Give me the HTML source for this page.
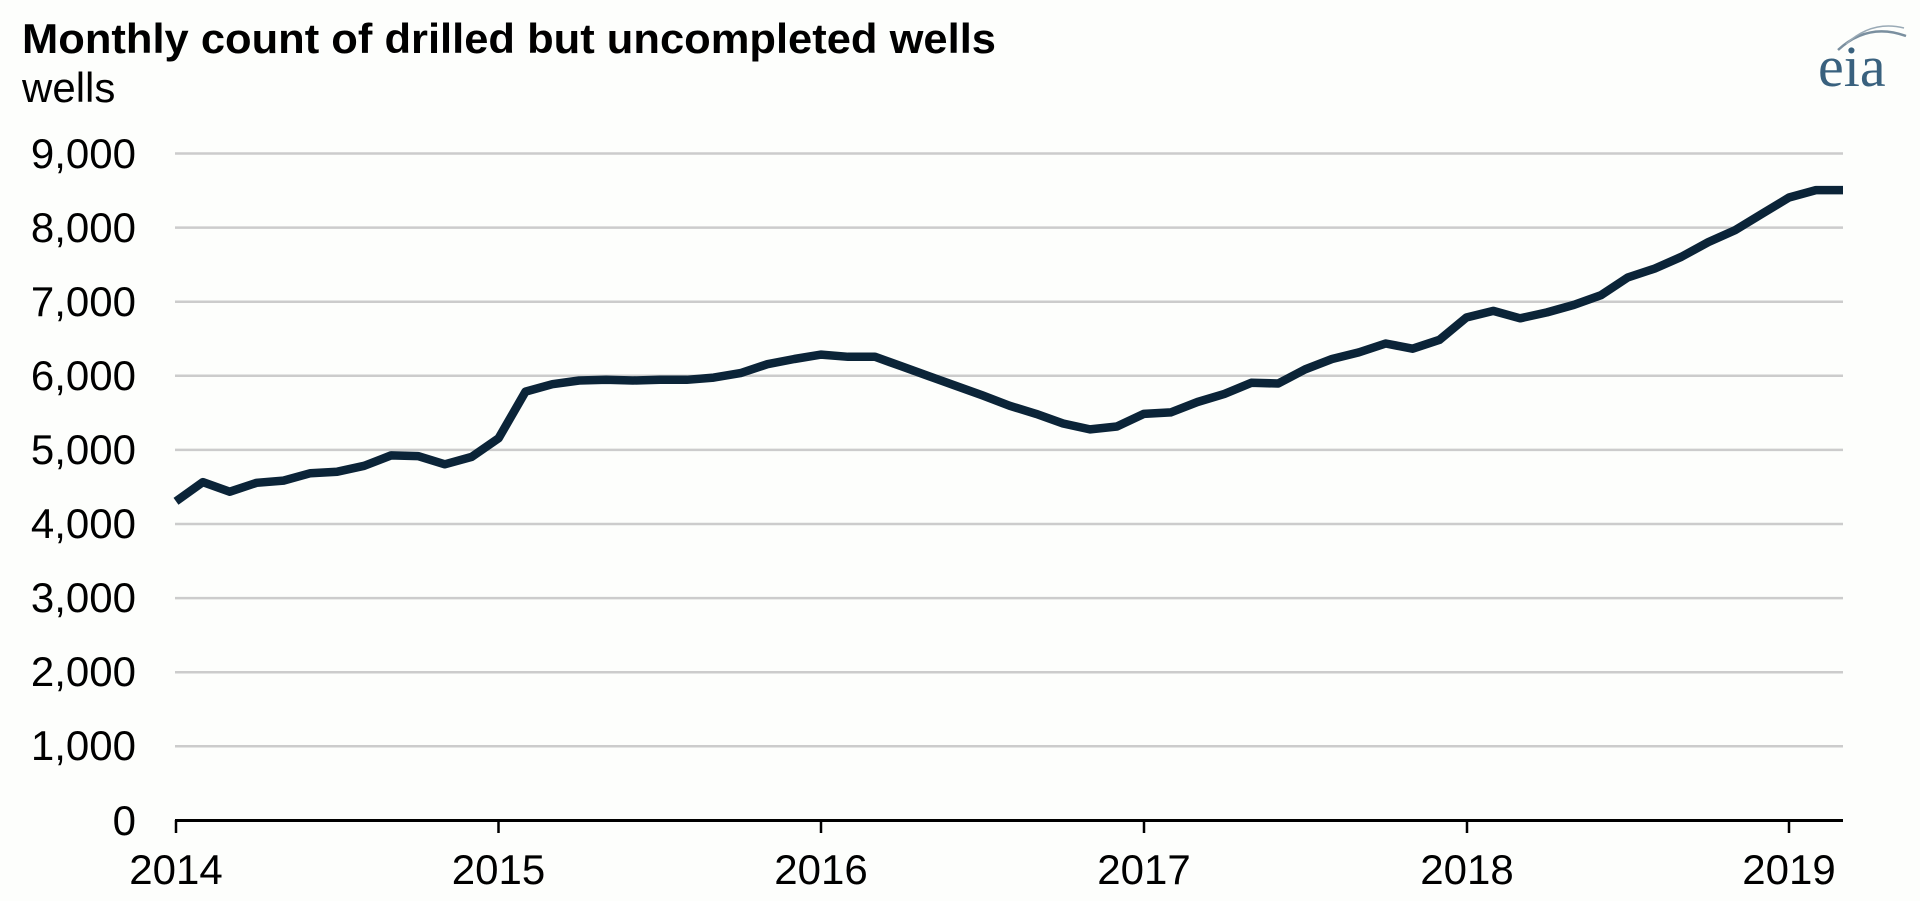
<!DOCTYPE html>
<html><head><meta charset="utf-8"><style>
html,body{margin:0;padding:0;background:#fdfefc;}
svg{display:block;font-family:"Liberation Sans",Arial,sans-serif;}
</style></head><body>
<svg width="1920" height="901" viewBox="0 0 1920 901" xmlns="http://www.w3.org/2000/svg">
<rect width="1920" height="901" fill="#fdfefc"/>
<text x="22" y="53" font-size="42" font-weight="bold" fill="#000" textLength="974" lengthAdjust="spacingAndGlyphs">Monthly count of drilled but uncompleted wells</text>
<text x="22" y="102" font-size="42" fill="#000">wells</text>
<text x="1818" y="86" font-size="58" fill="#39617e" font-family="Liberation Serif,serif">eia</text>
<path d="M1838 50 Q1868 22 1906 36" stroke="#7a8f9f" stroke-width="2.5" fill="none"/>
<path d="M1846 44 Q1872 20 1904 28" stroke="#9aaab6" stroke-width="1.5" fill="none"/>
<g stroke="#cccccc" stroke-width="2.5">
<line x1="175" x2="1843" y1="153.5" y2="153.5"/>
<line x1="175" x2="1843" y1="227.6" y2="227.6"/>
<line x1="175" x2="1843" y1="301.7" y2="301.7"/>
<line x1="175" x2="1843" y1="375.8" y2="375.8"/>
<line x1="175" x2="1843" y1="449.9" y2="449.9"/>
<line x1="175" x2="1843" y1="524" y2="524"/>
<line x1="175" x2="1843" y1="598.1" y2="598.1"/>
<line x1="175" x2="1843" y1="672.2" y2="672.2"/>
<line x1="175" x2="1843" y1="746.3" y2="746.3"/>
</g>
<g font-size="42" fill="#000" text-anchor="end">
<text x="136" y="168">9,000</text>
<text x="136" y="242">8,000</text>
<text x="136" y="316">7,000</text>
<text x="136" y="390">6,000</text>
<text x="136" y="464">5,000</text>
<text x="136" y="538">4,000</text>
<text x="136" y="612">3,000</text>
<text x="136" y="686">2,000</text>
<text x="136" y="760">1,000</text>
<text x="136" y="835">0</text>
</g>
<line x1="175" x2="1843" y1="820.5" y2="820.5" stroke="#000" stroke-width="3"/>
<g stroke="#000" stroke-width="2.5">
<line x1="176" x2="176" y1="820" y2="833"/>
<line x1="498.5" x2="498.5" y1="820" y2="833"/>
<line x1="821" x2="821" y1="820" y2="833"/>
<line x1="1144" x2="1144" y1="820" y2="833"/>
<line x1="1467" x2="1467" y1="820" y2="833"/>
<line x1="1789" x2="1789" y1="820" y2="833"/>
</g>
<g font-size="42" fill="#000" text-anchor="middle">
<text x="176" y="884">2014</text>
<text x="498.5" y="884">2015</text>
<text x="821" y="884">2016</text>
<text x="1144" y="884">2017</text>
<text x="1467" y="884">2018</text>
<text x="1789" y="884">2019</text>
</g>
<polyline fill="none" stroke="#0b2438" stroke-width="8.5" stroke-linejoin="round" points="176.0,501.3 202.9,482.1 229.8,491.7 256.6,482.8 283.5,480.6 310.4,473.2 337.3,471.7 364.2,465.8 391.1,455.4 418.0,456.1 444.8,464.3 471.7,456.9 498.6,438.3 525.5,391.6 552.4,384.2 579.2,380.5 606.1,379.8 633.0,380.5 659.9,379.8 686.8,379.8 713.7,377.6 740.5,373.1 767.4,364.2 794.3,359.0 821.2,354.6 848.1,356.8 875.0,356.8 901.8,366.4 928.7,376.1 955.6,385.7 982.5,395.4 1009.4,405.7 1036.2,413.9 1063.1,423.5 1090.0,429.4 1116.9,426.5 1143.8,413.9 1170.7,412.4 1197.5,402.0 1224.4,393.9 1251.3,382.8 1278.2,383.5 1305.1,369.4 1332.0,359.0 1358.8,352.4 1385.7,343.5 1412.6,348.7 1439.5,339.8 1466.4,317.5 1493.3,310.9 1520.1,318.3 1547.0,312.4 1573.9,304.9 1600.8,295.3 1627.7,277.5 1654.6,268.6 1681.4,256.8 1708.3,242.1 1735.2,230.1 1762.1,213.8 1789.0,197.5 1815.9,190.1 1843,190.1"/>
</svg>
</body></html>
